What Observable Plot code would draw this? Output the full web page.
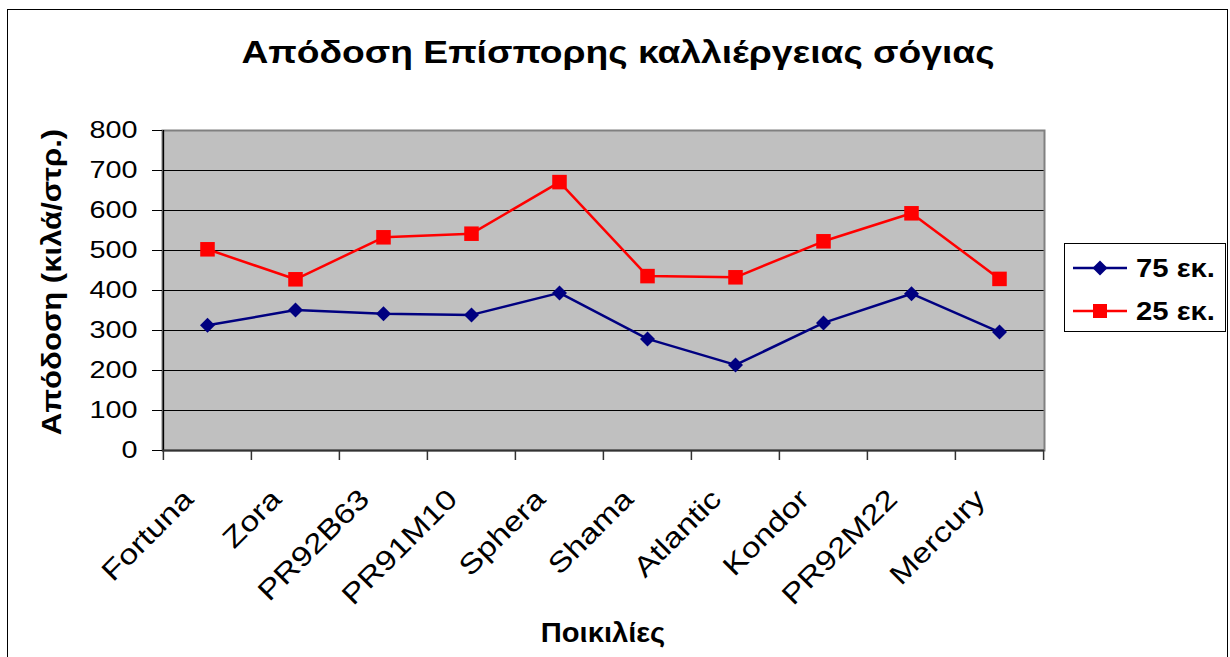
<!DOCTYPE html>
<html><head><meta charset="utf-8">
<script src="https://cdn.jsdelivr.net/npm/d3@7"></script>
<script src="https://cdn.jsdelivr.net/npm/@observablehq/plot@0.6"></script>
<style>
html,body{margin:0;padding:0;background:#fff;}
body{font-family:"Liberation Sans",Arial,sans-serif;color:#000;}
#wrap{position:relative;width:1230px;height:657px;overflow:hidden;}
#border{position:absolute;left:7px;top:9px;width:1221px;height:700px;border:1px solid #000;box-sizing:border-box;}
#chart{position:absolute;left:0;top:0;}
.lbl{position:absolute;font-weight:bold;white-space:nowrap;line-height:1;}
#title{left:0;width:1236px;text-align:center;top:37px;font-size:31px;transform:scaleX(1.2);transform-origin:50% 50%;}
#ylab{font-size:28px;left:52px;top:282px;transform:translate(-50%,-50%) rotate(-90deg) scaleX(1.11);}
#xlab{font-size:28px;left:603px;top:633px;transform:translate(-50%,-50%) scaleX(1.04);}
#legend{position:absolute;left:1064px;top:243px;width:162px;height:89px;border:1px solid #000;box-sizing:border-box;background:#fff;}
.item{position:absolute;left:8px;height:28px;display:flex;align-items:center;font-weight:bold;font-size:25px;}
.item svg{margin-right:9px;}
.item span{display:inline-block;transform:scaleX(1.17);transform-origin:0 50%;}
</style></head>
<body>
<div id="wrap">
  <div id="border"></div>
  <div id="chart"></div>
  <div id="title" class="lbl">Απόδοση Επίσπορης καλλιέργειας σόγιας</div>
  <div id="ylab" class="lbl">Απόδοση (κιλά/στρ.)</div>
  <div id="xlab" class="lbl">Ποικιλίες</div>
  <div id="legend"></div>
</div>
<script>
const categories = ["Fortuna","Zora","PR92B63","PR91M10","Sphera","Shama","Atlantic","Kondor","PR92M22","Mercury"];
const seriesNames = ["75 εκ.","25 εκ."];
const values75 = [313,351,342,339,394,279,214,319,392,296];
const values25 = [503,428,533,542,671,436,433,523,593,429];
const yTicks = [0,100,200,300,400,500,600,700,800];
const seriesColors = ["#000080","#FF0000"];

const rows = [];
categories.forEach((c,i)=>{
  rows.push({category:c, series:seriesNames[0], value:values75[i]});
  rows.push({category:c, series:seriesNames[1], value:values25[i]});
});

const W = 1230, H = 657, mL = 162, mR = 186, mT = 130, mB = 207;
const step = (W - mL - mR) / categories.length;

const chart = Plot.plot({
  width: W, height: H,
  marginLeft: mL, marginRight: mR, marginTop: mT, marginBottom: mB,
  style: {fontFamily: '"Liberation Sans", Arial, sans-serif', fontSize: "24px", color: "#000", background: "transparent", overflow: "visible"},
  x: {type: "point", domain: categories, padding: 0.5, axis: null},
  y: {domain: [0, 800], axis: null},
  color: {domain: seriesNames, range: seriesColors},
  marks: [
    Plot.frame({fill: "#C0C0C0"}),
    Plot.gridY(yTicks, {stroke: "#000", strokeOpacity: 1, strokeWidth: 1}),
    Plot.frame({stroke: "#808080", strokeWidth: 2}),
    Plot.ruleX([categories[0]], {dx: -step/2, stroke: "#000", strokeWidth: 1.5}),
    Plot.ruleY([0], {stroke: "#333", strokeWidth: 2}),
    Plot.axisY({ticks: yTicks, tickSize: 10, tickPadding: 15, label: null, fontSize: 24, stroke: "#000"}),
    Plot.axisX({ticks: categories, tickSize: 10, tickFormat: () => "", label: null, dx: -step/2, stroke: "#333", strokeWidth: 1.5}),
    Plot.axisX({ticks: [categories[categories.length-1]], tickSize: 10, tickFormat: () => "", label: null, dx: step/2, stroke: "#333", strokeWidth: 1.5}),
    Plot.text(categories, {x: d => d, frameAnchor: "bottom", rotate: -45, textAnchor: "end", lineAnchor: "middle", dx: -19, dy: 44, fontSize: 28, fill: "#000"}),
    Plot.line(rows, {x: "category", y: "value", z: "series", stroke: "series", strokeWidth: 2.5}),
    Plot.dot(rows.filter(d => d.series === seriesNames[0]), {x: "category", y: "value", fill: "series", symbol: "diamond2", r: 6.75, stroke: null}),
    Plot.dot(rows.filter(d => d.series === seriesNames[1]), {x: "category", y: "value", fill: "series", symbol: "square", r: 8.2, stroke: null})
  ]
});
// widen glyphs along the baseline like the reference rendering
chart.querySelectorAll("text").forEach(t => {
  const tr = t.getAttribute("transform");
  if (tr) {
    t.setAttribute("transform", tr + " scale(1.2,1)");
  } else {
    const x = t.getAttribute("x") || 0, y = t.getAttribute("y") || 0;
    t.removeAttribute("x"); t.removeAttribute("y");
    t.setAttribute("transform", `translate(${x},${y}) scale(1.2,1)`);
  }
});
document.getElementById("chart").appendChild(chart);

// Legend
const legend = document.getElementById("legend");
const shapes = ['<path d="M27,-7.5 L34.5,0 L27,7.5 L19.5,0 Z"/>', '<rect x="20" y="-7" width="14" height="14"/>'];
seriesNames.forEach((name, i) => {
  const it = document.createElement("div");
  it.className = "item";
  it.style.top = (i === 0 ? 10 : 53) + "px";
  it.innerHTML = `<svg width="54" height="20" viewBox="0 -10 54 20"><line x1="0" x2="54" y1="0" y2="0" stroke="${seriesColors[i]}" stroke-width="2.5"/><g fill="${seriesColors[i]}">${shapes[i]}</g></svg><span>${name}</span>`;
  legend.appendChild(it);
});
</script>
</body></html>
